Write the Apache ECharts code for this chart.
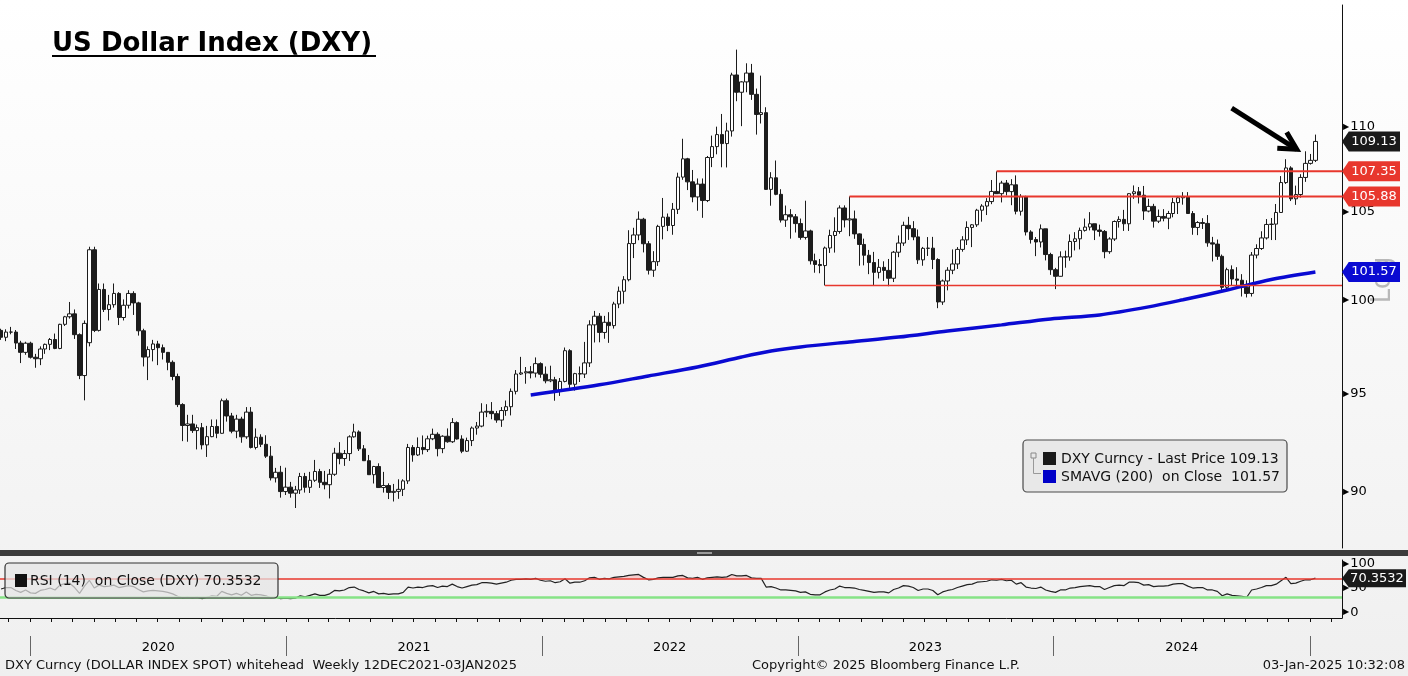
<!DOCTYPE html>
<html><head><meta charset="utf-8">
<script src="https://cdn.jsdelivr.net/npm/echarts@6/dist/echarts.min.js"></script>
<style>html,body{margin:0;padding:0;background:#fff;}#c{width:1408px;height:676px;}</style>
</head><body><div id="c"></div>
<script>
// ---------- DATA (weekly candles: [open, high, low, close]) ----------
const firstWeek = '2019-11-15';
const ohlc2019 = [
[98.36,98.45,97.85,97.99],[97.99,98.42,97.78,98.27],[98.27,98.55,98.15,98.27],[98.27,98.38,97.36,97.68],
[97.68,97.80,96.61,97.18],[97.18,97.75,97.05,97.67],[97.67,97.75,96.85,96.92]];
const ohlc2020 = [
[96.92,97.10,96.36,96.84],[96.84,97.50,96.50,97.36],[97.36,97.65,97.10,97.61],[97.61,97.95,97.30,97.87],
[97.87,98.19,97.35,97.39],[97.39,98.72,97.35,98.69],[98.69,99.15,98.60,99.10],[99.10,99.91,99.00,99.26],
[99.26,99.50,97.90,98.13],[98.13,98.20,95.76,95.95],[95.95,98.90,94.65,98.74],[97.70,102.99,97.50,102.82],
[102.82,102.99,98.27,98.36],[98.36,100.93,98.30,100.60],[100.60,100.93,99.36,99.50],[99.50,100.30,98.90,99.76],
[99.76,100.93,99.60,100.38],[100.38,100.45,98.65,99.06],[99.06,100.05,98.90,99.73],[99.73,100.56,99.55,100.38],
[100.38,100.50,99.20,99.86],[99.86,99.92,98.08,98.34],[98.34,98.45,96.43,96.93],[96.93,97.50,95.71,97.33],
[97.33,97.85,96.70,97.63],[97.63,97.80,96.50,97.43],[97.43,97.60,96.80,97.18],[97.18,97.20,96.23,96.65],
[96.65,96.75,95.70,95.90],[95.90,96.05,94.30,94.43],[94.43,94.50,92.55,93.35],[93.35,93.90,92.52,93.43],
[93.43,93.90,92.97,93.09],[93.09,93.40,92.13,93.24],[93.24,93.48,92.13,92.36],[92.36,93.33,91.75,92.78],
[92.78,93.66,92.75,93.30],[93.30,93.66,92.70,92.95],[92.95,94.74,92.93,94.63],[94.63,94.74,93.55,93.84],
[93.84,94.00,92.95,93.06],[93.06,93.90,92.70,93.68],[93.68,93.80,92.47,92.77],[92.77,94.30,92.67,94.04],
[94.04,94.30,92.18,92.23],[92.23,93.20,92.13,92.75],[92.75,92.90,92.25,92.39],[92.39,92.85,91.70,91.79],
[91.79,92.30,90.57,90.70],[90.70,91.20,90.47,90.98],[90.98,91.30,89.72,90.02],[90.02,91.21,89.85,90.24]];
const ohlc2021 = [
[90.24,90.50,89.72,89.94],[89.94,90.30,89.21,90.10],[90.10,90.95,89.90,90.77],[90.77,90.95,89.97,90.23],
[90.23,91.00,89.95,90.58],[90.58,91.60,90.50,91.02],[91.02,91.15,90.20,90.48],[90.48,91.05,90.13,90.36],
[90.36,91.14,89.68,90.88],[90.88,92.21,90.80,91.94],[91.94,92.50,91.38,91.67],[91.67,92.10,91.30,91.92],
[91.92,92.85,91.55,92.77],[92.77,93.44,92.73,93.02],[93.02,93.10,92.05,92.16],[92.16,92.35,91.55,91.56],
[91.56,91.85,90.85,90.86],[90.86,91.30,90.42,91.27],[91.27,91.43,90.20,90.22],[90.22,91.00,89.97,90.32],
[90.32,90.43,89.65,89.98],[89.98,90.40,89.53,90.03],[90.03,90.63,89.66,90.13],[90.13,90.63,89.80,90.55],
[90.55,92.41,90.40,92.23],[92.23,92.35,91.51,91.85],[91.85,92.74,91.80,92.23],[92.23,92.84,91.88,92.12],
[92.12,92.83,92.00,92.67],[92.67,93.19,92.60,92.90],[92.90,93.00,91.78,92.17],[92.17,92.85,91.94,92.80],
[92.80,93.20,92.47,92.52],[92.52,93.73,92.46,93.50],[93.50,93.56,92.63,92.66],[92.66,92.85,91.94,92.04],
[92.04,92.73,92.00,92.58],[92.58,93.30,92.30,93.22],[93.22,93.53,92.88,93.32],[93.32,94.50,93.26,94.04],
[94.04,94.45,93.78,94.08],[94.08,94.56,93.67,93.96],[93.96,94.10,93.49,93.63],[93.63,94.30,93.28,94.12],
[94.12,94.64,93.85,94.32],[94.32,95.27,93.87,95.12],[95.12,96.24,94.96,96.03],[96.03,96.94,95.98,96.09],
[96.09,96.40,95.52,96.15],[96.15,96.45,95.80,96.08],[96.08,96.91,95.85,96.58],[96.58,96.65,95.83,96.02],
[96.02,96.43,95.54,95.67]];
const ohlc2022 = [
[95.67,96.47,95.60,95.73],[95.73,95.88,94.63,95.17],[95.17,95.82,94.88,95.64],[95.64,97.44,95.59,97.27],
[97.27,97.35,95.14,95.49],[95.49,96.09,95.16,96.05],[96.05,96.43,95.61,96.03],[96.03,97.74,95.82,96.62],
[96.62,98.91,96.40,98.66],[98.66,99.42,97.71,99.13],[99.13,99.30,97.72,98.25],[98.25,99.15,97.91,98.80],
[98.80,99.35,97.69,98.62],[98.62,99.92,98.46,99.80],[99.80,100.76,99.57,100.50],[100.50,101.34,99.82,101.14],
[101.14,103.93,101.05,103.17],[103.17,104.07,102.35,103.66],[103.66,105.01,103.36,104.56],[104.56,104.64,102.67,103.16],
[103.16,103.31,101.43,101.67],[101.67,102.74,101.30,102.15],[102.15,104.24,101.91,104.15],[104.15,105.79,103.41,104.68],
[104.68,104.89,103.88,104.20],[104.20,105.50,103.67,105.13],[105.13,107.27,104.86,107.01],[107.01,109.29,106.85,108.09],
[108.09,108.15,106.25,106.73],[106.73,107.43,105.54,105.85],[105.85,106.93,105.05,106.60],[106.60,106.93,104.64,105.64],
[105.64,108.26,105.55,108.17],[108.17,109.48,107.60,108.82],[108.82,110.02,108.36,109.54],[109.54,110.79,107.59,109.00],
[109.00,110.26,107.58,109.76],[109.76,113.33,109.42,113.19],[113.19,114.78,111.57,112.12],[112.12,112.80,110.05,112.76],
[112.76,113.92,112.12,113.31],[113.31,113.88,111.65,111.99],[111.99,112.35,109.54,110.76],[110.76,113.15,110.21,110.87],
[110.87,111.20,106.27,106.29],[106.29,107.30,105.34,106.97],[106.97,107.99,105.95,106.00],[106.00,106.30,104.37,104.51],
[104.51,105.35,104.12,104.82],[104.82,105.14,103.45,104.70],[104.70,104.86,103.80,104.31],[104.31,104.60,103.39,103.52]];
const ohlc2023 = [
[103.52,105.63,103.40,103.89],[103.89,103.96,101.99,102.20],[102.20,102.60,101.53,101.99],[101.99,102.30,101.50,101.93],
[101.93,103.00,100.82,102.92],[102.92,103.96,102.64,103.63],[103.63,104.67,102.66,103.86],[103.86,105.36,103.73,105.21],
[105.21,105.36,104.09,104.52],[104.52,105.88,103.59,104.58],[104.58,105.06,103.44,103.72],[103.72,103.75,101.92,103.12],
[103.12,103.45,101.94,102.51],[102.51,102.81,101.45,102.10],[102.10,102.70,100.79,101.55],[101.55,102.30,101.21,101.83],
[101.83,102.17,101.07,101.66],[101.66,102.30,100.78,101.22],[101.22,102.75,101.01,102.68],[102.68,103.63,102.40,103.20],
[103.20,104.42,103.04,104.21],[104.21,104.70,103.38,104.02],[104.02,104.45,103.36,103.55],[103.55,103.97,102.02,102.25],
[102.25,102.98,101.92,102.90],[102.90,103.54,102.47,102.91],[102.91,103.55,101.73,102.27],[102.27,102.34,99.57,99.91],
[99.91,101.15,99.75,101.07],[101.07,101.84,100.55,101.67],[101.67,102.84,101.45,102.02],[102.02,102.97,101.74,102.84],
[102.84,103.59,102.71,103.38],[103.38,104.44,103.09,104.09],[104.09,104.28,102.97,104.24],[104.24,105.16,104.12,105.08],
[105.08,105.43,104.42,105.32],[105.32,105.78,104.80,105.58],[105.58,106.84,105.43,106.17],[106.17,107.35,106.03,106.04],
[106.04,106.79,105.53,106.66],[106.66,106.84,105.94,106.16],[106.16,106.89,105.37,106.56],[106.56,107.11,104.84,105.02],
[105.02,106.01,104.77,105.86],[105.86,105.92,103.63,103.83],[103.83,103.93,103.17,103.40],[103.40,103.54,102.46,103.26],
[103.26,104.26,102.95,104.01],[104.01,104.01,102.22,102.55],[102.55,102.65,101.41,101.70],[101.70,101.80,100.62,101.33]];
const ohlc2024 = [
[101.33,102.73,101.32,102.42],[102.42,102.77,101.81,102.41],[102.41,103.69,102.20,103.29],[103.29,103.82,102.78,103.44],
[103.44,104.08,102.84,103.92],[103.92,104.60,103.85,104.11],[104.11,104.97,103.92,104.30],[104.30,104.30,103.37,103.94],
[103.94,104.25,103.57,103.86],[103.86,103.94,102.34,102.71],[102.71,103.53,102.59,103.43],[103.43,104.49,103.32,104.43],
[104.43,104.73,104.08,104.55],[104.55,105.10,103.89,104.30],[104.30,106.07,103.89,106.04],[106.04,106.52,105.74,106.15],
[106.15,106.43,105.47,105.95],[105.95,106.49,104.52,105.03],[105.03,105.74,104.96,105.30],[105.30,105.45,104.08,104.45],
[104.45,105.12,104.34,104.72],[104.72,105.14,104.44,104.62],[104.62,105.04,103.99,104.89],[104.89,105.80,104.67,105.52],
[105.52,105.91,104.86,105.80],[105.80,106.13,105.40,105.87],[105.87,106.13,104.87,104.89],[104.89,105.03,103.67,104.09],
[104.09,104.45,103.65,104.37],[104.37,104.62,104.00,104.32],[104.32,104.80,102.99,103.21],[103.21,103.55,102.16,103.14],
[103.14,103.40,102.25,102.45],[102.45,102.55,100.53,100.72],[100.72,101.81,100.51,101.70],[101.70,101.94,100.81,101.18],
[101.18,101.84,100.75,101.11],[101.11,101.45,100.21,100.72],[100.72,101.11,100.16,100.38],[100.38,102.69,100.21,102.52],
[102.52,103.13,102.33,102.89],[102.89,103.87,102.81,103.49],[103.49,104.57,103.40,104.26],[104.26,104.63,103.37,104.28],
[104.28,105.44,103.37,104.95],[104.95,107.07,104.92,106.69],[106.69,108.07,106.61,107.55],[107.55,107.65,105.61,105.74],
[105.74,106.51,105.39,105.99],[105.99,107.18,105.81,106.99],[106.99,108.54,106.73,107.82],[107.82,108.38,107.75,108.00]];
const ohlc2025 = [[108.00,109.54,107.90,109.13]];

// 200-week simple moving average (week index from firstWeek, value)
const smaWeek  = [108,122,132,142,151,157,163,173,183,193,204,214,224,234,241,250,259,268];
const smaValue = [94.93,95.46,95.93,96.40,96.93,97.25,97.47,97.74,98.00,98.33,98.66,98.98,99.20,99.64,100.03,100.57,101.15,101.57];

// RSI(14), one value per weekly bar
const rsiValue = [
48,51,51,45,41,46,40,39,45,47, 50,46,56,59,60,51,39,54,66,50, 56,53,54,56,51,53,55,53,47,42,
44,45,44,43,41,38,33,30,31,30, 31,28,31,34,33,43,39,36,39,35, 42,35,37,36,34,30,31,28,29,28,
29,34,32,35,38,35,35,38,45,44, 46,51,52,47,44,40,43,38,39,37, 38,38,41,52,50,52,51,54,55,51,
54,53,58,53,50,53,56,57,61,61, 60,58,60,62,66,68,68,69,68,70, 66,64,65,61,63,69,60,62,62,65,
71,72,68,70,69,72,73,74,76,77, 78,72,67,68,71,72,72,72,75,76, 71,70,72,68,71,72,73,72,73,78,
75,75,76,71,70,70,52,53,50,46, 46,45,44,41,42,37,36,36,42,46, 48,54,51,51,50,47,45,43,41,42,
42,40,47,50,55,54,51,45,48,48, 45,36,42,45,47,51,54,57,58,62, 63,64,67,66,68,65,66,58,61,52,
50,49,52,46,43,41,46,46,50,51, 53,54,55,53,53,47,51,55,56,55, 62,62,61,56,57,53,54,54,55,58,
59,59,54,50,51,51,46,46,43,34, 38,35,34,33,31,46,48,51,55,55, 58,65,72,59,60,64,67,67,70.35];

// trend lines (start date, level) drawn to the right edge
const levelStart = ['2023-10-06','2023-03-10','2023-02-03'];
const levelValue = [107.35, 105.88, 100.82];
const levelTagged = [true, true, false];

const lastPrice = 109.13, smaLast = 101.57, rsiLast = 70.3532;
const priceTicks = [90, 95, 100, 105, 110];
const rsiTicks = [0, 50, 100];
const rsiBands = [70, 30];
const yearLabels = [2020, 2021, 2022, 2023, 2024];
// annotation arrow (date, price)
const arrowShaft = [['2024-09-05T12:00', 111.14], ['2024-12-07T08:00', 108.66]];
const arrowHead  = [['2024-11-23T00:00', 109.68], ['2024-12-07T08:00', 108.66], ['2024-11-09T14:00', 108.72]];

// ---------- BUILD ----------
const DAY = 864e5;
const T0 = Date.parse(firstWeek + 'T00:00:00Z');
const T2020 = Date.UTC(2020, 0, 1);
const PXD = 0.7006;             // pixels per day (layout calibration)
const W = 1342;                 // plot width
const cMin = T2020 - 34 / PXD * DAY, cMax = T2020 + (W - 34) / PXD * DAY;   // candle axis
const lMin = T2020 - 30 / PXD * DAY, lMax = T2020 + (W - 30) / PXD * DAY;   // calendar axis
const wk = i => T0 + i * 7 * DAY;
const L = Math.log;
const tp = s => Date.parse(s.length > 10 ? s + ':00Z' : s + 'T00:00:00Z');

const candles = [].concat(ohlc2019, ohlc2020, ohlc2021, ohlc2022, ohlc2023, ohlc2024, ohlc2025);
const candleData = candles.map((r, i) => [wk(i), L(r[0]), L(r[3]), L(r[2]), L(r[1])]);
const smaData = smaWeek.map((w, i) => [wk(w), L(smaValue[i])]);
const rsiData = rsiValue.map((v, i) => [wk(i), v]);
const rsiOver = rsiValue.map((v, i) => [wk(i), Math.max(v, rsiBands[0])]);

const monthTicks = [];
for (let y = 2019; y <= 2025; y++) for (let m = 0; m < 12; m++) {
  const t = Date.UTC(y, m, 1); if (t > lMin && t < lMax) monthTicks.push(t);
}
const yearTicks = [2020, 2021, 2022, 2023, 2024, 2025].map(y => Date.UTC(y, 0, 1));
const yearMid = yearLabels.map(y => Date.UTC(y, 6, 2));

const FONT = '"DejaVu Sans", Verdana, sans-serif';
const tagPath = 'path://M0,10 L7,0 L60,0 L60,20 L7,20 Z';
const RED = '#e8372d', BLUE = '#0a0ad2';

const levelSeries = levelStart.map((s, i) => ({
  type: 'line', xAxisIndex: 0, yAxisIndex: 0, symbol: 'none', silent: true, z: 7, color: RED,
  data: [[tp(s), L(levelValue[i])], [cMax, L(levelValue[i])]],
  itemStyle: { color: RED },
  lineStyle: { color: RED, width: levelTagged[i] ? 2 : 1.3, opacity: 1 }
}));

const priceTags = [{ name: lastPrice.toFixed(2), value: [cMax, L(lastPrice)], itemStyle: { color: '#1a1a1a', opacity: 1 } }]
  .concat(levelValue.map((v, i) => levelTagged[i] ? { name: v.toFixed(2), value: [cMax, L(v)], itemStyle: { color: RED, opacity: 1 } } : null).filter(Boolean))
  .concat([{ name: smaLast.toFixed(2), value: [cMax, L(smaLast)], itemStyle: { color: BLUE, opacity: 1 } }]);

const chart = echarts.init(document.getElementById('c'), null, { renderer: 'canvas' });
const option = {
  animation: false,
  backgroundColor: { type: 'linear', x: 0, y: 0, x2: 0, y2: 1,
    colorStops: [{ offset: 0, color: '#ffffff' }, { offset: 0.8, color: '#f3f3f3' }, { offset: 1, color: '#efefef' }] },
  textStyle: { fontFamily: FONT },
  grid: [
    { left: 0, right: 66, top: 5, height: 543 },
    { left: 0, right: 66, top: 560, height: 58 },
    { left: 0, right: 66, top: 600, height: 36 }
  ],
  xAxis: [
    { type: 'time', gridIndex: 0, min: cMin, max: cMax, show: false },
    { type: 'time', gridIndex: 1, min: cMin, max: cMax, show: false, position: 'top' },
    { type: 'value', gridIndex: 1, min: lMin, max: lMax, position: 'bottom', splitLine: { show: false },
      axisLine: { show: true, lineStyle: { color: '#111', width: 1 } },
      axisTick: { show: true, customValues: monthTicks, length: 4, lineStyle: { color: '#111' } },
      axisLabel: { show: false } },
    { type: 'value', gridIndex: 2, min: lMin, max: lMax, position: 'bottom', splitLine: { show: false },
      axisLine: { show: false },
      axisTick: { show: true, customValues: yearTicks, length: 20, lineStyle: { color: '#666', width: 1 } },
      axisLabel: { show: true, customValues: yearMid, margin: 5, fontSize: 13, color: '#000', fontFamily: FONT,
        formatter: v => String(new Date(v).getUTCFullYear()) } }
  ],
  yAxis: [
    { type: 'value', gridIndex: 0, position: 'right', min: L(87.27), max: L(117.63), splitLine: { show: false },
      axisLine: { show: true, lineStyle: { color: '#111', width: 1 } }, axisTick: { show: false },
      axisLabel: { customValues: priceTicks.map(L), margin: 1, fontSize: 13, color: '#000', fontFamily: FONT,
        formatter: v => '{t|▶}' + Math.round(Math.exp(v)),
        rich: { t: { fontSize: 8, color: '#000', padding: [0, 1, 0, 0] } } } },
    { type: 'value', gridIndex: 1, position: 'right', min: -11.8, max: 107.8, splitLine: { show: false },
      axisLine: { show: true, lineStyle: { color: '#111', width: 1 } }, axisTick: { show: false },
      axisLabel: { customValues: rsiTicks, margin: 1, fontSize: 13, color: '#000', fontFamily: FONT,
        formatter: v => '{t|▶}' + v,
        rich: { t: { fontSize: 8, color: '#000', padding: [0, 1, 0, 0] } } } },
    { type: 'value', gridIndex: 2, show: false, min: 0, max: 1 }
  ],
  series: [
    { type: 'candlestick', xAxisIndex: 0, yAxisIndex: 0, data: candleData, encode: { x: 0, y: [1, 2, 3, 4] },
      barWidth: 4, z: 3,
      itemStyle: { color: '#ffffff', color0: '#1c1c1c', borderColor: '#1c1c1c', borderColor0: '#1c1c1c', borderWidth: 1 } },
    { type: 'line', xAxisIndex: 0, yAxisIndex: 0, data: smaData, symbol: 'none', smooth: 0.3, z: 5,
      lineStyle: { color: BLUE, width: 3.5 } },
    ...levelSeries,
    { type: 'line', xAxisIndex: 0, yAxisIndex: 0, symbol: 'none', silent: true, z: 6,
      data: arrowShaft.map(p => [tp(p[0]), L(p[1])]),
      lineStyle: { color: '#000', width: 5, cap: 'butt' } },
    { type: 'line', xAxisIndex: 0, yAxisIndex: 0, symbol: 'none', silent: true, z: 6,
      data: arrowHead.map(p => [tp(p[0]), L(p[1])]),
      lineStyle: { color: '#000', width: 5, join: 'miter', cap: 'butt' } },
    { type: 'scatter', xAxisIndex: 0, yAxisIndex: 0, silent: true, clip: false, z: 10,
      data: priceTags, symbol: tagPath, symbolSize: [58, 20], symbolOffset: [29, 0],
      label: { show: true, position: 'inside', formatter: '{b}', color: '#fff', fontSize: 13, fontFamily: FONT, offset: [3, 0] } },
    { type: 'line', xAxisIndex: 1, yAxisIndex: 1, data: rsiOver, symbol: 'none', z: 3, silent: true,
      lineStyle: { width: 0, opacity: 0 }, areaStyle: { origin: rsiBands[0], color: '#f5cfcf', opacity: 1 } },
    { type: 'line', xAxisIndex: 1, yAxisIndex: 1, data: rsiData, symbol: 'none', z: 4,
      lineStyle: { color: '#222', width: 1.2 },
      markLine: { silent: true, symbol: 'none', label: { show: false },
        data: [{ yAxis: rsiBands[0], lineStyle: { color: RED, width: 1.5, type: 'solid' } },
               { yAxis: rsiBands[1], lineStyle: { color: '#86e386', width: 2.5, type: 'solid' } }] } },
    { type: 'scatter', xAxisIndex: 1, yAxisIndex: 1, silent: true, clip: false, z: 10,
      data: [{ name: String(rsiLast), value: [cMax, rsiLast] }], symbol: 'path://M0,9 L7,0 L66,0 L66,18 L7,18 Z',
      symbolSize: [64, 18], symbolOffset: [32, 0], itemStyle: { color: '#1a1a1a', opacity: 1 },
      label: { show: true, position: 'inside', formatter: '{b}', color: '#fff', fontSize: 13, fontFamily: FONT, offset: [3, 0] } },
    { type: 'line', xAxisIndex: 3, yAxisIndex: 2, data: [] }
  ],
  graphic: [
    { type: 'text', z: 20, style: { x: 52, y: 44, text: 'US Dollar Index (DXY)', font: 'bold 26px ' + FONT, fill: '#000', verticalAlign: 'middle' } },
    { type: 'line', z: 20, shape: { x1: 52, y1: 56, x2: 376, y2: 56 }, style: { stroke: '#000', lineWidth: 2 } },
    // divider
    { type: 'rect', z: 20, shape: { x: 0, y: 550, width: 1408, height: 6 }, style: { fill: '#3c3c3c' } },
    { type: 'rect', z: 21, shape: { x: 697, y: 552, width: 15, height: 2 }, style: { fill: '#9a9a9a' } },
    // Log
    { type: 'text', z: 0, zlevel: 0, rotation: Math.PI / 2, x: 1383, y: 280,
      style: { x: 0, y: 0, text: 'Log', font: '26px ' + FONT, fill: '#b8b8b8', align: 'center', verticalAlign: 'middle' } },
    // main legend
    { type: 'rect', z: 20, shape: { x: 1023, y: 440, width: 264, height: 52, r: 4 }, style: { fill: 'rgba(230,230,230,0.92)', stroke: '#4a4a4a', lineWidth: 1.2 } },
    { type: 'rect', z: 21, shape: { x: 1031, y: 453, width: 5, height: 5 }, style: { fill: 'none', stroke: '#888', lineWidth: 1 } },
    { type: 'polyline', z: 21, shape: { points: [[1033.5, 458], [1033.5, 473.5], [1041, 473.5]] }, style: { fill: 'none', stroke: '#999', lineWidth: 1 } },
    { type: 'rect', z: 21, shape: { x: 1043, y: 452, width: 13, height: 13 }, style: { fill: '#1a1a1a' } },
    { type: 'text', z: 21, style: { x: 1061, y: 459.5, text: 'DXY Curncy - Last Price ' + lastPrice.toFixed(2), font: '14px ' + FONT, fill: '#111', verticalAlign: 'middle' } },
    { type: 'rect', z: 21, shape: { x: 1043, y: 470, width: 13, height: 13 }, style: { fill: '#0000c8' } },
    { type: 'text', z: 21, style: { x: 1061, y: 477.5, text: 'SMAVG (200)  on Close  ' + smaLast.toFixed(2), font: '14px ' + FONT, fill: '#111', verticalAlign: 'middle' } },
    // RSI legend
    { type: 'rect', z: 20, shape: { x: 5, y: 563, width: 273, height: 35, r: 4 }, style: { fill: 'rgba(228,228,228,0.72)', stroke: '#333', lineWidth: 1.2 } },
    { type: 'rect', z: 21, shape: { x: 15, y: 574, width: 12, height: 13 }, style: { fill: '#111' } },
    { type: 'text', z: 21, style: { x: 30, y: 581, text: 'RSI (14)  on Close (DXY) ' + rsiLast, font: '14px ' + FONT, fill: '#111', verticalAlign: 'middle' } },
    // footer
    { type: 'text', z: 20, style: { x: 5, y: 666, text: 'DXY Curncy (DOLLAR INDEX SPOT) whitehead  Weekly 12DEC2021-03JAN2025', font: '13px ' + FONT, fill: '#111', verticalAlign: 'middle' } },
    { type: 'text', z: 20, style: { x: 886, y: 666, text: 'Copyright© 2025 Bloomberg Finance L.P.', font: '13px ' + FONT, fill: '#111', align: 'center', verticalAlign: 'middle' } },
    { type: 'text', z: 20, style: { x: 1405, y: 666, text: '03-Jan-2025 10:32:08', font: '13px ' + FONT, fill: '#111', align: 'right', verticalAlign: 'middle' } }
  ]
};
chart.setOption(option);
</script>
</body></html>
